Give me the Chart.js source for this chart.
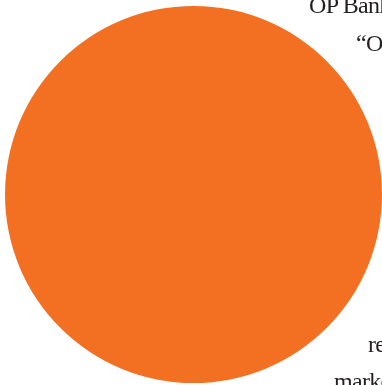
<!DOCTYPE html>
<html>
<head>
<meta charset="utf-8">
<script src="https://cdn.jsdelivr.net/npm/chart.js@4"></script>
<style>
  html, body { margin: 0; padding: 0; width: 382px; height: 385px; overflow: hidden; background: #fff; }
  #wrap { position: absolute; left: 5px; top: 6px; width: 377px; height: 377px; }
  .txt { position: absolute; font-family: "Liberation Serif", "DejaVu Serif", serif; font-size: 24px;
         line-height: 24px; letter-spacing: -0.7px; color: #231f20; white-space: nowrap; }
</style>
</head>
<body>
<div id="wrap"><canvas id="pie"></canvas></div>
<div class="txt" style="left:309px; top:-7px;">OP Bank</div>
<div class="txt" style="left:356px; top:31px;">“O</div>
<div class="txt" style="left:368px; top:332px;">re</div>
<div class="txt" style="left:334px; top:369px;">market</div>
<script>
// single slice fills the whole pie
const labels = ['OP Bank'];
const values = [100];
const colors = ['#f37022'];

const ctx = document.getElementById('pie').getContext('2d');
new Chart(ctx, {
    type: 'pie',
    data: {
        labels: labels,
        datasets: [{
            data: values,
            backgroundColor: colors,
            borderWidth: 0
        }]
    },
    options: {
        responsive: true,
        maintainAspectRatio: false,
        animation: false,
        layout: { padding: 0 },
        plugins: {
            legend: { display: false },
            tooltip: { enabled: false }
        }
    }
});
</script>
</body>
</html>
